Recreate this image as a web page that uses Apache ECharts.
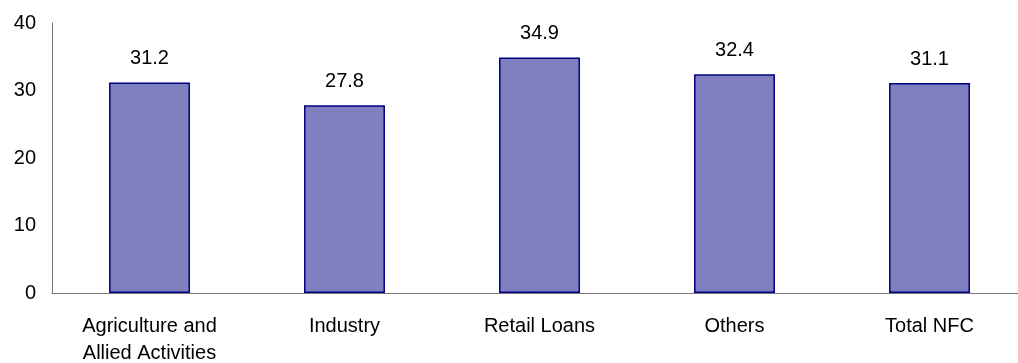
<!DOCTYPE html>
<html>
<head>
<meta charset="utf-8">
<script src="https://cdn.jsdelivr.net/npm/echarts@6/dist/echarts.min.js"></script>
<style>
  html, body { margin: 0; padding: 0; background: #fff; }
  #chart { width: 1018px; height: 363px; }
</style>
</head>
<body>
<div id="chart"></div>
<script>
  var categories = ['Agriculture and\nAllied Activities', 'Industry', 'Retail Loans', 'Others', 'Total NFC']
  var values = [31.2, 27.8, 34.9, 32.4, 31.1]

  var font = 'Liberation Sans'
  var chart = echarts.init(document.getElementById('chart'))
  chart.setOption({
    animation: false,
    grid: {
      left: 52,
      top: 23,
      width: 975,
      bottom: 70,
      containLabel: false,
      outerBoundsMode: 'none'
    },
    xAxis: {
      type: 'category',
      data: categories,
      axisLine: { lineStyle: { color: '#777', width: 1 } },
      axisTick: { show: false },
      axisLabel: {
        color: '#000',
        fontFamily: font,
        fontSize: 20,
        lineHeight: 27,
        margin: 20,
        interval: 0
      }
    },
    yAxis: {
      type: 'value',
      min: 0,
      max: 40,
      interval: 10,
      axisLine: { show: true, lineStyle: { color: '#777', width: 1 } },
      axisTick: { show: false },
      splitLine: { show: false },
      axisLabel: {
        color: '#000',
        fontFamily: font,
        fontSize: 20,
        margin: 16
      }
    },
    series: [{
      type: 'bar',
      data: values,
      barWidth: '41.5%',
      itemStyle: {
        color: '#8080c0',
        borderColor: '#000080',
        borderWidth: 1.5
      },
      label: {
        show: true,
        position: 'top',
        distance: 14,
        color: '#000',
        fontFamily: font,
        fontSize: 20,
        formatter: function (p) { return p.value.toFixed(1) }
      }
    }]
  })
</script>
</body>
</html>
